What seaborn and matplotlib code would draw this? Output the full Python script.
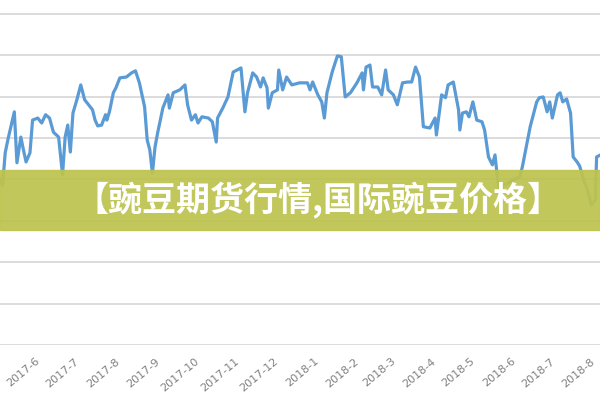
import pandas as pd
import matplotlib.pyplot as plt
import matplotlib.transforms as mtransforms
import seaborn as sns
from matplotlib.patches import Rectangle

# trading days counted from 2017-05-01, and price
day_offset = [0, 2, 4, 6, 11, 13, 16, 18, 20, 23, 25, 29, 32, 35, 38, 41, 45, 48, 50, 52,
              54, 56, 59, 62, 65, 68, 71, 73, 75, 78, 81, 82, 84, 87, 89, 92, 97, 101, 104, 107,
              111, 113, 115, 117, 119, 121, 125, 129, 130, 133, 138, 142, 144, 147, 150, 152, 155, 160, 163, 166,
              167, 171, 175, 179, 182, 185, 188, 190, 194, 197, 200, 202, 205, 206, 209, 213, 214, 217, 220, 224,
              230, 236, 238, 240, 244, 247, 249, 251, 255, 259, 262, 265, 269, 274, 278, 279, 281, 284, 286, 290,
              293, 296, 298, 302, 305, 309, 313, 316, 319, 322, 325, 330, 334, 335, 339, 342, 344, 348, 352, 353,
              355, 358, 360, 363, 366, 370, 372, 375, 378, 380, 382, 384, 386, 390, 394, 399, 401, 405, 407, 409,
              412, 414, 417, 420, 422, 424, 428, 430, 432, 435, 438, 440, 443, 445, 448, 451, 454, 457, 458, 461]
price = [2803, 2786, 2864, 2895, 2963, 2840, 2902, 2871, 2842, 2864, 2943, 2948, 2936, 2956, 2948, 2914, 2902, 2811, 2902, 2931,
         2866, 2960, 2992, 3028, 2992, 2980, 2968, 2943, 2929, 2931, 2956, 2943, 2963, 3009, 3021, 3045, 3047, 3057, 3062, 3033,
         2975, 2895, 2871, 2815, 2878, 2912, 2972, 3004, 2972, 3009, 3016, 3028, 2980, 2943, 2956, 2936, 2951, 2948, 2939, 2890,
         2948, 2972, 2999, 3059, 3064, 3069, 2963, 3009, 3057, 3047, 3023, 3045, 3021, 2972, 3009, 3016, 3064, 3016, 3047, 3028,
         3033, 3033, 3016, 3035, 3004, 2987, 2948, 3009, 3059, 3098, 3096, 2999, 3009, 3033, 3057, 3016, 3071, 3076, 3023, 3023,
         3004, 3064, 3016, 3004, 2980, 3033, 3035, 3035, 3071, 3047, 2927, 2924, 2948, 2907, 3004, 2997, 3028, 3035, 2968, 2919,
         2960, 2963, 2951, 2987, 2943, 2939, 2919, 2854, 2835, 2859, 2799, 2767, 2786, 2791, 2799, 2806, 2830, 2895, 2927, 2951,
         2987, 2997, 2999, 2963, 2987, 2948, 3004, 3009, 2987, 2994, 2960, 2854, 2842, 2832, 2799, 2774, 2738, 2750, 2854, 2859]

month_labels = ["2017-6", "2017-7", "2017-8", "2017-9", "2017-10", "2017-11", "2017-12",
                "2018-1", "2018-2", "2018-3", "2018-4", "2018-5", "2018-6", "2018-7", "2018-8"]
title = "【豌豆期货行情,国际豌豆价格】"

start = pd.Timestamp("2017-05-01")
df = pd.DataFrame({"date": start + pd.to_timedelta(day_offset, unit="D"), "price": price})

sns.set_style("white")
fig = plt.figure(figsize=(6, 4), dpi=100)
ax = fig.add_axes([0, 0.1375, 1, 0.8625])

for v in range(2400, 3201, 100):
    ax.axhline(v, color="#d9d9d9", lw=1.3, zorder=0)

sns.lineplot(data=df, x="date", y="price", ax=ax, color="#5b9bd5", lw=2.3)

ax.set_xlim(start, start + pd.Timedelta(days=460.6))
ax.set_ylim(2400, 3233)
ticks = [pd.Timestamp(m + "-01") for m in month_labels]
ax.set_xticks(ticks)
ax.set_xticklabels(month_labels, rotation=40, ha="right", rotation_mode="anchor",
                   fontsize=8, color="#808080")
ax.tick_params(axis="x", length=0, pad=8)
shift = mtransforms.ScaledTranslation(-5 / 100, 0, fig.dpi_scale_trans)
for lab in ax.get_xticklabels():
    lab.set_transform(lab.get_transform() + shift)
ax.set_yticks([])
ax.set_xlabel("")
ax.set_ylabel("")
sns.despine(ax=ax, left=True, bottom=True, top=True, right=True)

# banner over the chart
fig.patches.append(Rectangle((0, 0.425), 1, 0.15, transform=fig.transFigure,
                             color="#bec34e", alpha=0.93, zorder=5))
fig.text(0.53, 0.5, title, ha="center", va="center", color="white", fontsize=24.5,
         fontweight="heavy", family=["Noto Sans CJK SC", "DejaVu Sans"], zorder=6)

fig.savefig("out.png", dpi=100)
